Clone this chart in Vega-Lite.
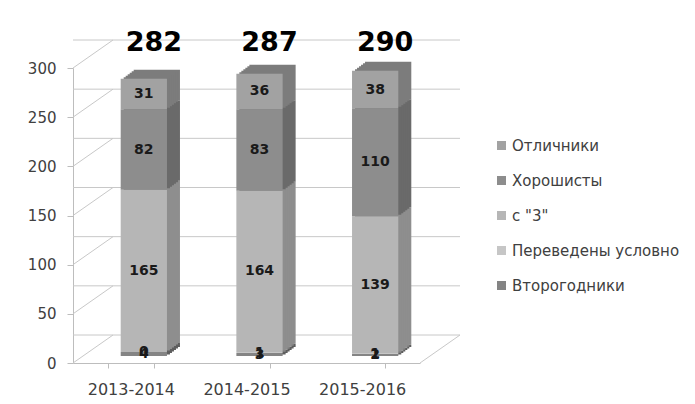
{
  "$schema": "https://vega.github.io/schema/vega-lite/v6.json",
  "width": 347,
  "height": 295,
  "autosize": "none",
  "padding": {"left": 73, "top": 68, "right": 275, "bottom": 41},
  "background": "white",
  "config": {
    "view": {"stroke": null},
    "font": "DejaVu Sans",
    "axisY": {"grid": false, "domainColor": "#bdbdbd", "tickColor": "#bdbdbd", "tickSize": 6, "labelPadding": 11, "labelFontSize": 15, "labelColor": "#404040"},
    "axisX": {"grid": false, "domainColor": "#bdbdbd", "tickColor": "#bdbdbd", "tickSize": 5, "tickBand": "extent", "labelPadding": 13, "labelFontSize": 16, "labelColor": "#404040", "labelAngle": 0}
  },
  "datasets": {
    "main": [
      {"year": "2013-2014", "cat": "Второгодники", "n": 1, "value": 4},
      {"year": "2013-2014", "cat": "Переведены условно", "n": 2, "value": 0},
      {"year": "2013-2014", "cat": "с \"3\"", "n": 3, "value": 165},
      {"year": "2013-2014", "cat": "Хорошисты", "n": 4, "value": 82},
      {"year": "2013-2014", "cat": "Отличники", "n": 5, "value": 31},
      {"year": "2014-2015", "cat": "Второгодники", "n": 1, "value": 3},
      {"year": "2014-2015", "cat": "Переведены условно", "n": 2, "value": 1},
      {"year": "2014-2015", "cat": "с \"3\"", "n": 3, "value": 164},
      {"year": "2014-2015", "cat": "Хорошисты", "n": 4, "value": 83},
      {"year": "2014-2015", "cat": "Отличники", "n": 5, "value": 36},
      {"year": "2015-2016", "cat": "Второгодники", "n": 1, "value": 2},
      {"year": "2015-2016", "cat": "Переведены условно", "n": 2, "value": 1},
      {"year": "2015-2016", "cat": "с \"3\"", "n": 3, "value": 139},
      {"year": "2015-2016", "cat": "Хорошисты", "n": 4, "value": 110},
      {"year": "2015-2016", "cat": "Отличники", "n": 5, "value": 38}
    ],
    "grid": [{"g": 0}, {"g": 50}, {"g": 100}, {"g": 150}, {"g": 200}, {"g": 250}, {"g": 300}]
  },
  "resolve": {"scale": {"color": "independent"}},
  "layer": [
    {
      "data": {"name": "grid"},
      "mark": {"type": "rule", "color": "#c8c8c8", "xOffset": 40, "x2Offset": 40, "yOffset": -28},
      "encoding": {
        "y": {"field": "g", "type": "quantitative", "title": null, "scale": {"domain": [0, 300], "nice": false}, "axis": {"values": [0, 50, 100, 150, 200, 250, 300]}}
      }
    },
    {
      "data": {"name": "grid"},
      "mark": {"type": "rule", "color": "#c8c8c8", "y2Offset": -28},
      "encoding": {
        "x": {"value": 0},
        "x2": {"value": 40},
        "y": {"field": "g", "type": "quantitative", "title": null},
        "y2": {"field": "g"}
      }
    },
    {
      "data": {"name": "grid"},
      "transform": [{"filter": "datum.g == 0"}],
      "mark": {"type": "rule", "color": "#c8c8c8", "y2Offset": -28},
      "encoding": {
        "x": {"value": 347},
        "x2": {"value": 387},
        "y": {"field": "g", "type": "quantitative", "title": null},
        "y2": {"field": "g"}
      }
    },
    {
      "data": {"name": "main"},
      "mark": {"type": "bar", "xOffset": 26, "x2Offset": 26, "yOffset": -16, "y2Offset": -16},
      "encoding": {
        "x": {"field": "year", "type": "nominal", "title": null, "scale": {"paddingInner": 0.6, "paddingOuter": 0.3}},
        "y": {"field": "value", "type": "quantitative", "stack": "zero", "title": null},
        "color": {"field": "cat", "type": "nominal", "legend": null,
          "scale": {"domain": ["Отличники", "Хорошисты", "с \"3\"", "Переведены условно", "Второгодники"],
                    "range": ["#7c7c7c", "#6a6a6a", "#8e8e8e", "#9a9a9a", "#5e5e5e"]}},
        "order": {"field": "n", "type": "quantitative"}
      }
    },
    {
      "data": {"name": "main"},
      "mark": {"type": "bar", "xOffset": 24, "x2Offset": 24, "yOffset": -14.5, "y2Offset": -14.5},
      "encoding": {
        "x": {"field": "year", "type": "nominal", "title": null},
        "y": {"field": "value", "type": "quantitative", "stack": "zero", "title": null},
        "color": {"field": "cat", "type": "nominal", "legend": null,
          "scale": {"domain": ["Отличники", "Хорошисты", "с \"3\"", "Переведены условно", "Второгодники"],
                    "range": ["#7c7c7c", "#6a6a6a", "#8e8e8e", "#9a9a9a", "#5e5e5e"]}},
        "order": {"field": "n", "type": "quantitative"}
      }
    },
    {
      "data": {"name": "main"},
      "mark": {"type": "bar", "xOffset": 22, "x2Offset": 22, "yOffset": -13, "y2Offset": -13},
      "encoding": {
        "x": {"field": "year", "type": "nominal", "title": null},
        "y": {"field": "value", "type": "quantitative", "stack": "zero", "title": null},
        "color": {"field": "cat", "type": "nominal", "legend": null,
          "scale": {"domain": ["Отличники", "Хорошисты", "с \"3\"", "Переведены условно", "Второгодники"],
                    "range": ["#7c7c7c", "#6a6a6a", "#8e8e8e", "#9a9a9a", "#5e5e5e"]}},
        "order": {"field": "n", "type": "quantitative"}
      }
    },
    {
      "data": {"name": "main"},
      "mark": {"type": "bar", "xOffset": 20, "x2Offset": 20, "yOffset": -11.5, "y2Offset": -11.5},
      "encoding": {
        "x": {"field": "year", "type": "nominal", "title": null},
        "y": {"field": "value", "type": "quantitative", "stack": "zero", "title": null},
        "color": {"field": "cat", "type": "nominal", "legend": null,
          "scale": {"domain": ["Отличники", "Хорошисты", "с \"3\"", "Переведены условно", "Второгодники"],
                    "range": ["#7c7c7c", "#6a6a6a", "#8e8e8e", "#9a9a9a", "#5e5e5e"]}},
        "order": {"field": "n", "type": "quantitative"}
      }
    },
    {
      "data": {"name": "main"},
      "mark": {"type": "bar", "xOffset": 18, "x2Offset": 18, "yOffset": -10, "y2Offset": -10},
      "encoding": {
        "x": {"field": "year", "type": "nominal", "title": null},
        "y": {"field": "value", "type": "quantitative", "stack": "zero", "title": null},
        "color": {"field": "cat", "type": "nominal", "legend": null,
          "scale": {"domain": ["Отличники", "Хорошисты", "с \"3\"", "Переведены условно", "Второгодники"],
                    "range": ["#7c7c7c", "#6a6a6a", "#8e8e8e", "#9a9a9a", "#5e5e5e"]}},
        "order": {"field": "n", "type": "quantitative"}
      }
    },
    {
      "data": {"name": "main"},
      "mark": {"type": "bar", "xOffset": 16, "x2Offset": 16, "yOffset": -8.5, "y2Offset": -8.5},
      "encoding": {
        "x": {"field": "year", "type": "nominal", "title": null},
        "y": {"field": "value", "type": "quantitative", "stack": "zero", "title": null},
        "color": {"field": "cat", "type": "nominal", "legend": null,
          "scale": {"domain": ["Отличники", "Хорошисты", "с \"3\"", "Переведены условно", "Второгодники"],
                    "range": ["#7c7c7c", "#6a6a6a", "#8e8e8e", "#9a9a9a", "#5e5e5e"]}},
        "order": {"field": "n", "type": "quantitative"}
      }
    },
    {
      "data": {"name": "main"},
      "mark": {"type": "bar", "xOffset": 13, "x2Offset": 13, "yOffset": -7, "y2Offset": -7},
      "encoding": {
        "x": {"field": "year", "type": "nominal", "title": null},
        "y": {"field": "value", "type": "quantitative", "stack": "zero", "title": null},
        "color": {"field": "cat", "type": "nominal",
          "scale": {"domain": ["Отличники", "Хорошисты", "с \"3\"", "Переведены условно", "Второгодники"],
                    "range": ["#a2a2a2", "#8d8d8d", "#b6b6b6", "#c6c6c6", "#848484"]},
          "legend": {"orient": "none", "legendX": 421, "legendY": 70, "direction": "vertical", "title": null,
                     "symbolType": "square", "symbolSize": 81, "symbolStrokeWidth": 0, "labelLimit": 0,
                     "labelFontSize": 15, "labelColor": "#404040", "rowPadding": 19, "labelOffset": 3, "padding": 0}},
        "order": {"field": "n", "type": "quantitative"}
      }
    },
    {
      "data": {"name": "main"},
      "transform": [
        {"stack": "value", "groupby": ["year"], "sort": [{"field": "n", "order": "ascending"}], "as": ["v0", "v1"]},
        {"calculate": "(datum.v0 + datum.v1) / 2", "as": "mid"}
      ],
      "mark": {"type": "text", "dx": 13, "dy": -7, "fontWeight": "bold", "fontSize": 14, "color": "#1a1a1a", "baseline": "middle", "align": "center"},
      "encoding": {
        "x": {"field": "year", "type": "nominal", "title": null},
        "y": {"field": "mid", "type": "quantitative", "title": null},
        "text": {"field": "value", "type": "quantitative"}
      }
    },
    {
      "data": {"name": "main"},
      "transform": [{"aggregate": [{"op": "sum", "field": "value", "as": "total"}], "groupby": ["year"]}],
      "mark": {"type": "text", "dx": 23, "dy": -25, "fontWeight": "bold", "fontSize": 27, "color": "#000000", "baseline": "middle", "align": "center"},
      "encoding": {
        "x": {"field": "year", "type": "nominal", "title": null},
        "y": {"datum": 300},
        "text": {"field": "total", "type": "quantitative"}
      }
    }
  ]
}
